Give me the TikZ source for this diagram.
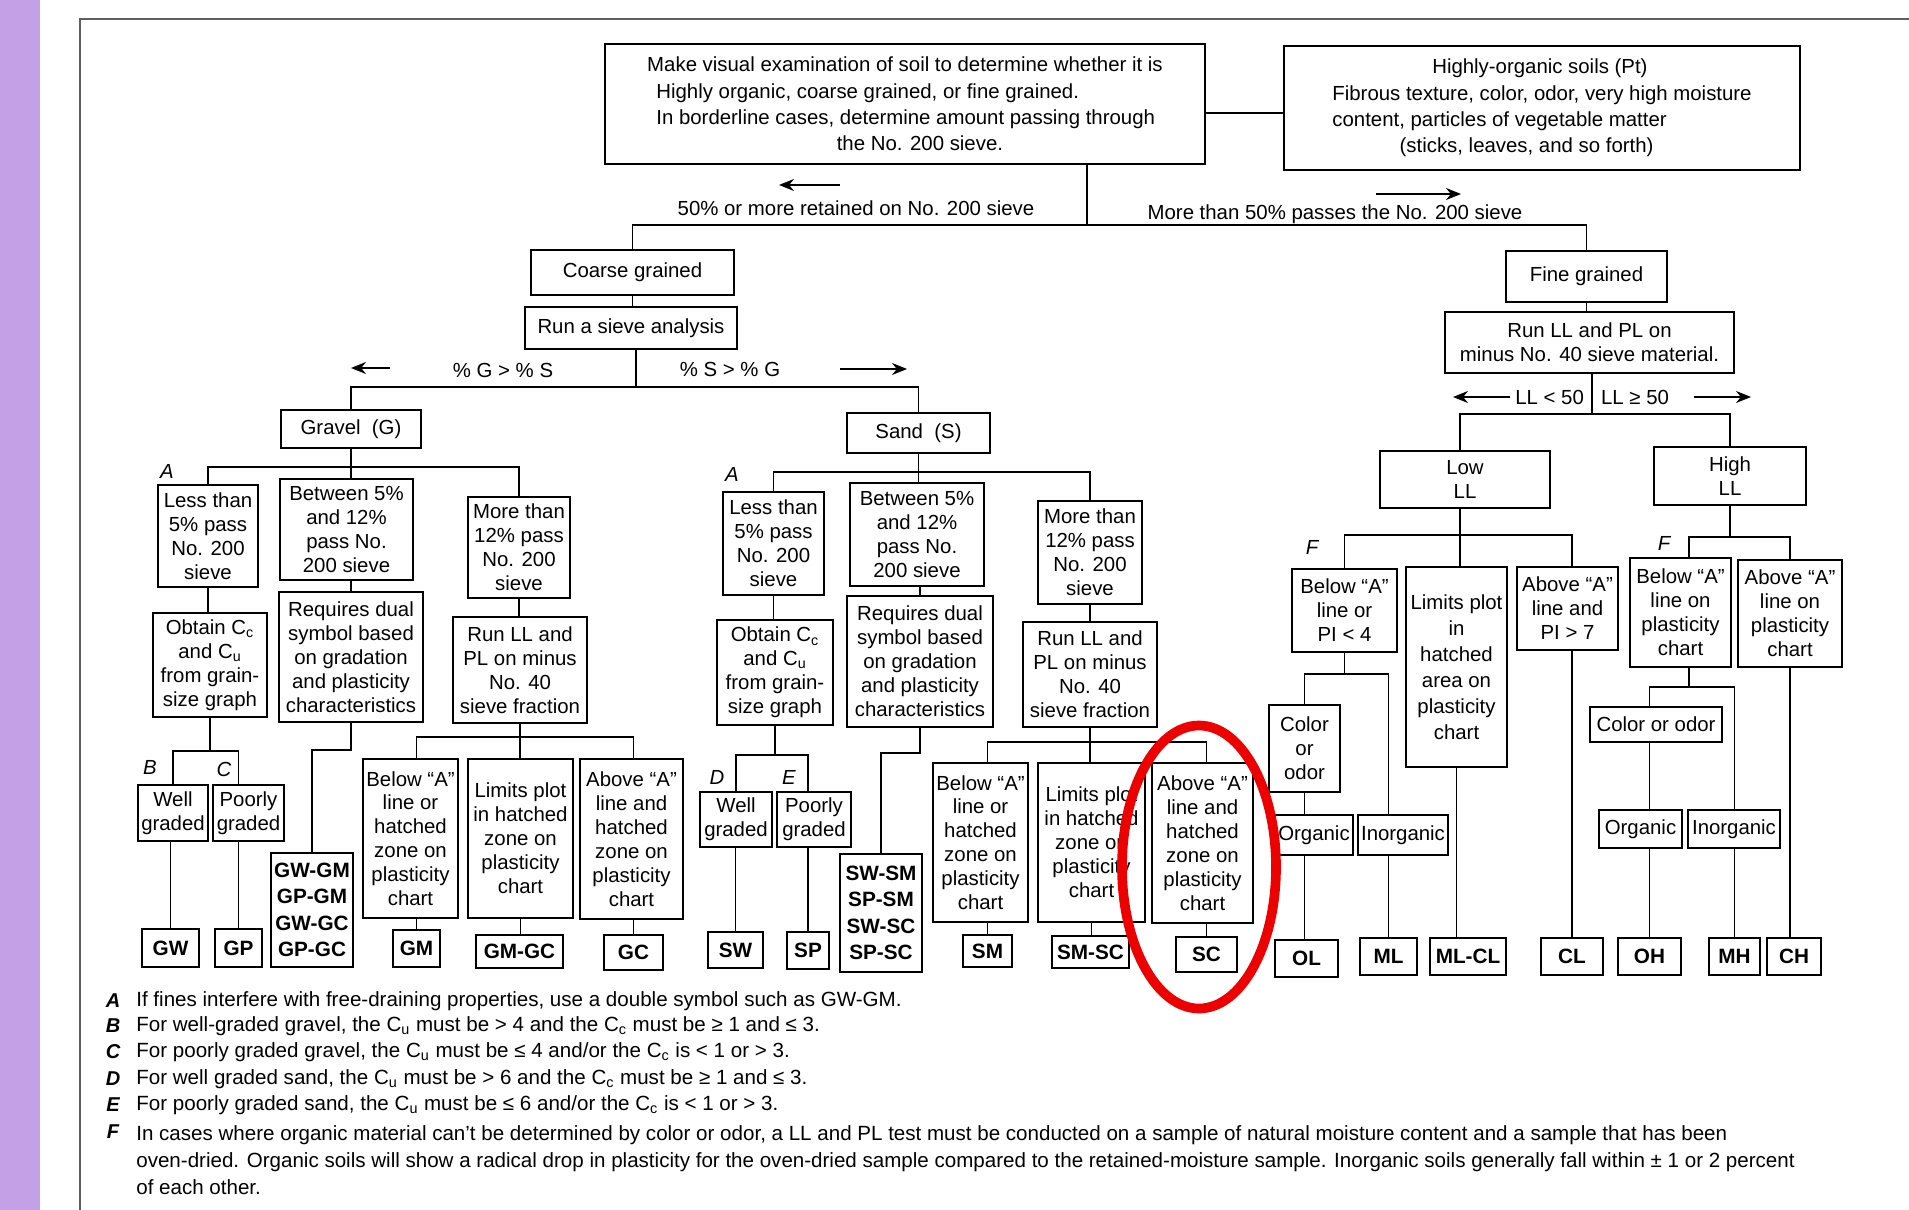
\documentclass[tikz,border=0pt]{standalone}
\usepackage{fontspec}
\setmainfont{Liberation Sans}
\usetikzlibrary{arrows.meta}
\definecolor{lavender}{RGB}{196,160,230}
\definecolor{framegrey}{RGB}{95,95,95}
\definecolor{ringred}{RGB}{236,0,0}
\tikzset{
  box/.style={draw,line width=1.1pt,align=center,inner sep=1pt,font=\fontsize{11.6}{13.6}\selectfont},
  symbox/.style={box,line width=1.4pt,font=\fontsize{11.8}{15}\selectfont\bfseries},
  link/.style={line width=0.9pt},
  harrow/.style={line width=0.9pt,-{Stealth[length=3mm,width=2.4mm]}},
  lbl/.style={font=\fontsize{11.6}{13.6}\selectfont,inner sep=1pt},
  tag/.style={font=\fontsize{11.6}{13}\selectfont\itshape,inner sep=0pt},
  note/.style={font=\fontsize{11.7}{15.4}\selectfont,inner sep=0pt,anchor=west,align=left},
}
\newcommand{\bx}[7][box]{\node[#1,minimum width={(#5-#3)*0.2mm},minimum height={(#6-#4)*0.2mm}] (#2) at ({(#3+#5)/2},{(#4+#6)/2}) {#7};}
\newcommand{\jn}[2]{\coordinate (#1) at (#2);}

\begin{document}
\begin{tikzpicture}[x=0.2mm,y=-0.2mm]
  \useasboundingbox (0,0) rectangle (1909,1210);
  \fill[white] (0,0) rectangle (1909,1210);
  \fill[lavender] (0,0) rectangle (40,1210);
  \draw[framegrey,line width=1.1pt] (80,1210) -- (80,19) -- (1909,19);

  \bx[box,font=\fontsize{11.6}{15}\selectfont,align=left]{top}{605}{44}{1205}{164}{Make visual examination of soil to determine whether it is\\\hspace*{0.45em}Highly organic, coarse grained, or fine grained.\\\hspace*{0.45em}In borderline cases, determine amount passing through\\\hspace*{9.3em}the No. 200 sieve.};
  \bx[box,font=\fontsize{11.6}{15}\selectfont,align=left]{organic}{1284}{46}{1800}{170}{\hspace*{4.9em}Highly-organic soils (Pt)\\Fibrous texture, color, odor, very high moisture\\content, particles of vegetable matter\\\hspace*{3.3em}(sticks, leaves, and so forth)};
  \bx{coarse}{531}{250}{734}{295}{Coarse grained};
  \bx{sieve}{525}{307}{737}{349}{Run a sieve analysis};
  \bx{fine}{1506}{251}{1667}{302}{Fine grained};
  \bx{runll}{1445}{312}{1734}{373}{Run LL and PL on\\minus No. 40 sieve material.};
  \bx{gravel}{281}{410}{421}{448}{Gravel\ \ (G)};
  \bx{sand}{847}{413}{990}{453}{Sand\ \ (S)};
  \bx{lowll}{1380}{451}{1550}{508}{Low\\LL};
  \bx{highll}{1654}{447}{1806}{505}{High\\LL};

  \bx{gless}{158}{485}{258}{587}{Less than\\5\% pass\\No. 200\\sieve};
  \bx{gbetw}{280}{479}{413}{580}{Between 5\%\\and 12\%\\pass No.\\200 sieve};
  \bx{gmore}{468}{497}{570}{598}{More than\\12\% pass\\No. 200\\sieve};
  \bx{gobtain}{153}{613}{267}{717}{Obtain C\textsubscript{c}\\and C\textsubscript{u}\\from grain-\\size graph};
  \bx{gdual}{279}{592}{423}{722}{Requires dual\\symbol based\\on gradation\\and plasticity\\characteristics};
  \bx{grunll}{453}{617}{587}{723}{Run LL and\\PL on minus\\No. 40\\sieve fraction};
  \bx{gwell}{138}{785}{208}{841}{Well\\graded};
  \bx{gpoor}{213}{785}{284}{841}{Poorly\\graded};
  \bx{gbelow}{363}{759}{458}{918}{Below “A”\\line or\\hatched\\zone on\\plasticity\\chart};
  \bx{glimits}{468}{759}{573}{918}{Limits plot\\in hatched\\zone on\\plasticity\\chart};
  \bx{gabove}{580}{759}{683}{919}{Above “A”\\line and\\hatched\\zone on\\plasticity\\chart};
  \bx[symbox]{GW}{142}{929}{199}{967}{GW};
  \bx[symbox]{GP}{215}{929}{262}{967}{GP};
  \bx[symbox]{gsym}{271}{853}{353}{967}{GW-GM\\GP-GM\\GW-GC\\GP-GC};
  \bx[symbox]{GM}{393}{930}{440}{967}{GM};
  \bx[symbox]{GMGC}{476}{935}{563}{968}{GM-GC};
  \bx[symbox]{GC}{604}{935}{663}{970}{GC};

  \bx{sless}{723}{492}{824}{595}{Less than\\5\% pass\\No. 200\\sieve};
  \bx{sbetw}{850}{483}{984}{586}{Between 5\%\\and 12\%\\pass No.\\200 sieve};
  \bx{smore}{1038}{501}{1142}{604}{More than\\12\% pass\\No. 200\\sieve};
  \bx{sobtain}{717}{620}{833}{725}{Obtain C\textsubscript{c}\\and C\textsubscript{u}\\from grain-\\size graph};
  \bx{sdual}{847}{596}{993}{727}{Requires dual\\symbol based\\on gradation\\and plasticity\\characteristics};
  \bx{srunll}{1023}{622}{1157}{727}{Run LL and\\PL on minus\\No. 40\\sieve fraction};
  \bx{swell}{700}{792}{772}{847}{Well\\graded};
  \bx{spoor}{777}{792}{851}{847}{Poorly\\graded};
  \bx{sbelow}{933}{763}{1028}{922}{Below “A”\\line or\\hatched\\zone on\\plasticity\\chart};
  \bx{slimits}{1038}{763}{1145}{922}{Limits plot\\in hatched\\zone on\\plasticity\\chart};
  \bx{sabove}{1152}{763}{1253}{923}{Above “A”\\line and\\hatched\\zone on\\plasticity\\chart};
  \bx[symbox]{SW}{708}{932}{763}{968}{SW};
  \bx[symbox]{SP}{787}{932}{829}{969}{SP};
  \bx[symbox]{ssym}{840}{854}{922}{972}{SW-SM\\SP-SM\\SW-SC\\SP-SC};
  \bx[symbox]{SM}{963}{935}{1012}{967}{SM};
  \bx[symbox]{SMSC}{1052}{936}{1129}{968}{SM-SC};
  \bx[symbox]{SC}{1176}{937}{1237}{972}{SC};

  \bx{fbelow}{1292}{569}{1397}{652}{Below “A”\\line or\\PI < 4};
  \bx[box,font=\fontsize{11.6}{14.8}\selectfont]{flimits}{1406}{567}{1507}{767}{Limits plot\\in\\hatched\\area on\\plasticity\\chart};
  \bx{fabove}{1517}{567}{1618}{650}{Above “A”\\line and\\PI > 7};
  \bx{fcolor}{1269}{705}{1340}{792}{Color\\or\\odor};
  \bx{forg}{1275}{815}{1353}{855}{Organic};
  \bx{finorg}{1358}{815}{1448}{855}{Inorganic};
  \bx[symbox]{OL}{1275}{940}{1338}{977}{OL};
  \bx[symbox]{ML}{1360}{938}{1417}{975}{ML};
  \bx[symbox]{MLCL}{1430}{938}{1506}{975}{ML-CL};
  \bx[symbox]{CL}{1541}{938}{1603}{975}{CL};
  \bx{hbelow}{1630}{558}{1731}{667}{Below “A”\\line on\\plasticity\\chart};
  \bx{habove}{1738}{560}{1842}{667}{Above “A”\\line on\\plasticity\\chart};
  \bx{hcolor}{1590}{707}{1722}{742}{Color or odor};
  \bx{horg}{1599}{810}{1682}{848}{Organic};
  \bx{hinorg}{1688}{810}{1780}{848}{Inorganic};
  \bx[symbox]{OH}{1618}{938}{1681}{975}{OH};
  \bx[symbox]{MH}{1709}{938}{1760}{975}{MH};
  \bx[symbox]{CH}{1767}{938}{1821}{975}{CH};

  \draw[link,line width=1.6pt] (top.east |- 0,113) -- (organic.west |- 0,113);
  \draw[link] (top.south -| 1087,0) -- (1087,225);
  \draw[link] (coarse.north) -- (coarse.north |- 0,225) -- (fine.north |- 0,225) -- (fine.north);
  \draw[link] (coarse.south) -- (coarse.south |- sieve.north);
  \draw[link] (sieve.south -| 636,0) -- (636,387);
  \draw[link] (gravel.north) -- (gravel.north |- 0,387) -- (sand.north |- 0,387) -- (sand.north);
  \draw[link] (fine.south) -- (fine.south |- runll.north);
  \draw[link] (runll.south -| 1592,0) -- (1592,414);
  \draw[link] (lowll.north -| 1460,0) -- (1460,414) -- (highll.north |- 0,414) -- (highll.north);

  \draw[link] (gravel.south) -- (gravel.south |- gbetw.north);
  \draw[link] (gless.north) -- (gless.north |- 0,467) -- (gmore.north |- 0,467) -- (gmore.north);
  \draw[link] (gless.south) -- (gless.south |- gobtain.north);
  \draw[link] (gbetw.south -| gdual.north) -- (gdual.north);
  \draw[link] (gmore.south) -- (gmore.south |- grunll.north);
  \draw[link] (gobtain.south) -- (gobtain.south |- 0,751);
  \draw[link] (gwell.north) -- (gwell.north |- 0,751) -- (GP.north |- 0,751) -- (GP.north |- gpoor.north);
  \draw[link] (GW.north |- gwell.south) -- (GW.north);
  \draw[link] (GP.north |- gpoor.south) -- (GP.north);
  \draw[link] (gdual.south) -- (gdual.south |- 0,750) -| (gsym.north);
  \draw[link] (grunll.south) -- (grunll.south |- glimits.north);
  \draw[link] (GM.north |- gbelow.north) -- (GM.north |- 0,737) -- (GC.north |- 0,737) -- (GC.north |- gabove.north);
  \draw[link] (GM.north |- gbelow.south) -- (GM.north);
  \draw[link] (glimits.south) -- (glimits.south |- GMGC.north);
  \draw[link] (GC.north |- gabove.south) -- (GC.north);

  \draw[link] (sand.south) -- (sand.south |- sbetw.north);
  \draw[link] (sless.north) -- (sless.north |- 0,472) -- (smore.north |- 0,472) -- (smore.north);
  \draw[link] (sless.south) -- (sless.south |- sobtain.north);
  \draw[link] (sbetw.south -| sdual.north) -- (sdual.north);
  \draw[link] (smore.south) -- (smore.south |- srunll.north);
  \draw[link] (sobtain.south) -- (sobtain.south |- 0,755);
  \draw[link] (swell.north) -- (swell.north |- 0,755) -- (SP.north |- 0,755) -- (SP.north |- spoor.north);
  \draw[link] (SW.north |- swell.south) -- (SW.north);
  \draw[link] (SP.north |- spoor.south) -- (SP.north);
  \draw[link] (sdual.south) -- (sdual.south |- 0,753) -| (ssym.north);
  \draw[link] (srunll.south) -- (srunll.south |- slimits.north);
  \draw[link] (SM.north |- sbelow.north) -- (SM.north |- 0,742) -- (SC.north |- 0,742) -- (SC.north |- sabove.north);
  \draw[link] (SM.north |- sbelow.south) -- (SM.north);
  \draw[link] (slimits.south) -- (slimits.south |- SMSC.north);
  \draw[link] (SC.north |- sabove.south) -- (SC.north);

  \draw[link] (lowll.south -| 1460,0) -- (1460,0 |- flimits.north);
  \draw[link] (fbelow.north) -- (fbelow.north |- 0,535) -- (CL.north |- 0,535) -- (CL.north |- fabove.north);
  \draw[link] (fbelow.south) -- (fbelow.south |- 0,674);
  \draw[link] (fcolor.north) -- (fcolor.north |- 0,674) -- (ML.north |- 0,674) -- (ML.north |- finorg.north);
  \draw[link] (fcolor.south) -- (fcolor.south |- forg.north);
  \draw[link] (fcolor.south |- forg.south) -- (fcolor.south |- OL.north);
  \draw[link] (ML.north |- finorg.south) -- (ML.north);
  \draw[link] (flimits.south) -- (flimits.south |- MLCL.north);
  \draw[link] (CL.north |- fabove.south) -- (CL.north);
  \draw[link] (highll.south) -- (highll.south |- 0,537);
  \draw[link] (hbelow.north -| 1689,0) -- (1689,537) -- (habove.north |- 0,537) -- (habove.north);
  \draw[link] (hbelow.south -| 1689,0) -- (1689,687);
  \draw[link] (OH.north |- hcolor.north) -- (OH.north |- 0,687) -- (MH.north |- 0,687) -- (MH.north |- hinorg.north);
  \draw[link] (OH.north |- hcolor.south) -- (OH.north |- horg.north);
  \draw[link] (OH.north |- horg.south) -- (OH.north);
  \draw[link] (MH.north |- hinorg.south) -- (MH.north);
  \draw[link] (habove.south) -- (habove.south |- CH.north);

  \node[lbl] (lretain) at (856,208) {50\% or more retained on No. 200 sieve};
  \node[lbl] (lpass) at (1335,214) {More than 50\% passes the No. 200 sieve};
  \node[lbl] (lgs) at (503,370) {\% G > \% S};
  \node[lbl] (lsg) at (730,369) {\% S > \% G};
  \node[lbl,anchor=east] (llow) at (1586,397) {LL < 50};
  \node[lbl,anchor=west] (lhigh) at (1599,397) {LL ≥ 50};
  \jn{ar1}{840,185} \jn{ar2}{779,185}
  \jn{ar3}{1376,194} \jn{ar4}{1461,194}
  \jn{ar5}{390,368} \jn{ar6}{351,368}
  \jn{ar7}{840,369} \jn{ar8}{907,369}
  \jn{ar9}{1510,397} \jn{ar10}{1453,397}
  \jn{ar11}{1694,397} \jn{ar12}{1751,397}
  \draw[harrow] (ar1) -- (ar2);
  \draw[harrow] (ar3) -- (ar4);
  \draw[harrow] (ar5) -- (ar6);
  \draw[harrow] (ar7) -- (ar8);
  \draw[harrow] (ar9) -- (ar10);
  \draw[harrow] (ar11) -- (ar12);

  \node[tag] (tga) at (167,471) {A};
  \node[tag] (tsa) at (732,474) {A};
  \node[tag] (tb) at (150,767) {B};
  \node[tag] (tc) at (224,769) {C};
  \node[tag] (td) at (717,777) {D};
  \node[tag] (te) at (789,777) {E};
  \node[tag] (tfl) at (1312,547) {F};
  \node[tag] (tfh) at (1664,543) {F};

  \foreach \k/\yy in {A/1001,B/1026,C/1052,D/1079,E/1105,F/1132}
    \node[tag,font=\fontsize{11.4}{13}\selectfont\bfseries\itshape] (n\k) at (113,\yy) {\k};
  \node[note] (notea) at (136,1001) {If fines interfere with free-draining properties, use a double symbol such as GW-GM.};
  \node[note] (noteb) at (136,1026) {For well-graded gravel, the C\textsubscript{u} must be > 4 and the C\textsubscript{c} must be ≥ 1 and ≤ 3.};
  \node[note] (notec) at (136,1052) {For poorly graded gravel, the C\textsubscript{u} must be ≤ 4 and/or the C\textsubscript{c} is < 1 or > 3.};
  \node[note] (noted) at (136,1079) {For well graded sand, the C\textsubscript{u} must be > 6 and the C\textsubscript{c} must be ≥ 1 and ≤ 3.};
  \node[note] (notee) at (136,1105) {For poorly graded sand, the C\textsubscript{u} must be ≤ 6 and/or the C\textsubscript{c} is < 1 or > 3.};
  \node[note] (notef) at (136,1160) {In cases where organic material can't be determined by color or odor, a LL and PL test must be conducted on a sample of natural moisture content and a sample that has been\\oven-dried. Organic soils will show a radical drop in plasticity for the oven-dried sample compared to the retained-moisture sample. Inorganic soils generally fall within ± 1 or 2 percent\\of each other.};

  \draw[ringred,line width=5.5pt] (1199,867) ellipse [x radius=15.4mm,y radius=28.3mm];
\end{tikzpicture}
\end{document}
